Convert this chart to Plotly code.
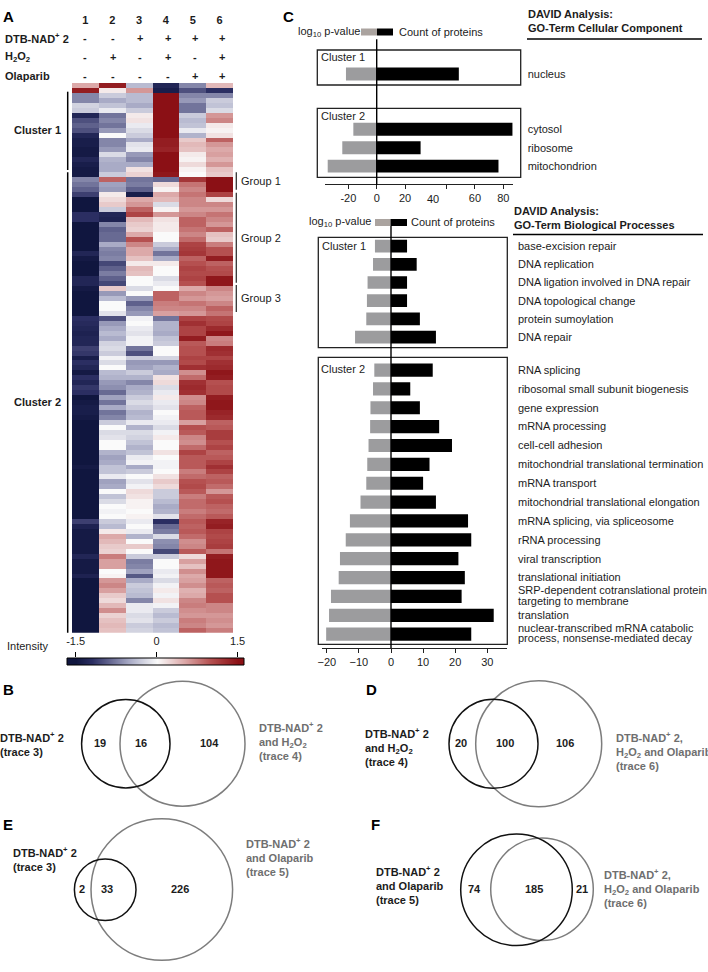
import plotly.graph_objects as go

W, H = 708, 972
FONT = "Liberation Sans"
INK = "#1c1c1c"
GREY = "#6f6f6f"
BAR_GREY = "#9c9c9e"
BASE = 11

# ---------- Panel A data ----------
column_ids = [1, 2, 3, 4, 5, 6]
treat_dtb = ["-", "-", "+", "+", "+", "+"]
treat_h2o2 = ["-", "+", "-", "+", "-", "+"]
treat_ola = ["-", "-", "-", "-", "+", "+"]
scale_levels = [-1.65, -1.5, -1.2, -0.9, -0.6, -0.3, 0, 0.3, 0.6, 0.9, 1.2, 1.5, 1.65]

heat_top = [
    [.5, 1.4, -.4, -1.3, -.7, .4],
    [1.4, .1, .6, -1.4, -1.0, -1.2],
    [-.7, -.3, -.4, 1.5, -.7, -.7],
    [-.7, -.5, -.4, 1.5, -.6, -.3],
    [-.25, -.35, -.5, 1.5, -.8, -.35],
    [-.3, -.1, -.3, 1.5, -.8, -.2],
    [-1.3, -.8, .1, 1.5, -.3, .6],
    [-1.0, -.7, .15, 1.5, -.4, .7],
    [-.9, -.8, -.1, 1.5, -.35, .1],
    [-1.0, -.6, -.2, 1.5, -.1, .05],
    [-1.3, .0, -.3, 1.5, -.45, .15],
    [-1.4, -.7, -.5, 1.4, .3, .9],
    [-1.4, -.7, -.15, 1.4, .4, .6],
    [-1.45, -.6, -.1, 1.35, .35, .5],
    [-1.45, -.2, -.6, 1.5, .1, .55],
    [-1.3, -.45, -.7, 1.5, .05, .45],
    [-1.4, -.5, -.5, 1.5, .2, .6],
    [-1.45, -.5, .15, 1.5, .05, .35],
    [-1.45, -.3, .25, 1.45, .0, .3],
]
heat_bottom = [
    [-.7, .9, -.8, -.85, 1.2, 1.5],
    [-.8, -.55, -.75, .2, .8, 1.5],
    [-.9, -.6, -.9, .05, .7, 1.5],
    [-1.1, .1, -1.4, .5, .8, 1.1],
    [-1.5, .2, .5, .4, .7, .2],
    [-1.5, .3, .6, -.2, .7, .7],
    [-1.5, -.3, .9, .05, .6, .6],
    [-1.2, -1.3, 1.1, .6, .7, .8],
    [-1.2, -1.35, .4, .15, .9, .7],
    [-1.5, -.7, .3, .1, .9, .6],
    [-1.5, -.9, .25, .1, .8, .9],
    [-1.5, -.85, .5, .0, .7, .35],
    [-1.5, -.85, 1.0, .0, .85, .3],
    [-1.5, -.5, .7, -.3, 1.1, .75],
    [-1.5, -.7, .5, -.5, 1.15, 1.0],
    [-1.3, -.75, .5, -.8, 1.2, 1.0],
    [-1.45, -.7, .35, -.5, .9, 1.4],
    [-1.5, -1.05, .1, .1, 1.0, .9],
    [-1.5, -.9, .4, .0, 1.1, 1.0],
    [-1.5, -.75, .35, .0, 1.05, 1.05],
    [-1.3, -.9, .0, -.2, 1.1, 1.45],
    [-1.3, -1.05, .0, -.1, 1.0, 1.45],
    [-1.45, .3, -.2, .0, .5, .7],
    [-1.5, -.6, .0, .9, .7, .6],
    [-1.5, -.4, -.6, .9, .6, .55],
    [-1.5, .0, -.9, .75, .8, .7],
    [-1.5, .0, -.7, .7, .7, .9],
    [-1.5, -.15, -.6, .55, .6, .8],
    [-1.2, -1.0, -.05, -.8, 1.1, 1.05],
    [-1.25, -.6, .0, -.45, 1.25, 1.1],
    [-1.3, -.5, -.1, -.45, 1.1, 1.3],
    [-1.35, -.4, -.15, -.5, 1.1, 1.45],
    [-1.3, -.5, -.05, -.35, 1.4, .7],
    [-1.3, -.25, -.05, -.3, .95, .75],
    [-1.1, -.2, -.8, .0, 1.0, 1.3],
    [-1.15, -.3, -1.0, .0, 1.0, 1.25],
    [-1.4, -.05, -.3, -.25, 1.1, 1.1],
    [-1.2, -.2, -.6, -.6, 1.05, 1.25],
    [-1.3, .0, -.55, -.45, 1.25, 1.3],
    [-1.45, -.4, -.3, -.5, .65, 1.45],
    [-1.2, -.45, -.45, .15, .85, 1.4],
    [-1.3, -.6, -.7, .2, 1.25, 1.0],
    [-1.15, -.65, -.5, -.2, 1.3, 1.05],
    [-1.2, -.85, -.45, -.1, 1.25, 1.05],
    [-1.5, -.55, -.3, .1, .65, 1.4],
    [-1.45, -.8, -.2, -.1, .7, 1.45],
    [-1.4, -.5, -.3, -.15, .9, 1.45],
    [-1.4, -.8, -.45, .0, .95, 1.35],
    [-1.45, -.7, -.4, -.05, .95, 1.3],
    [-1.5, -.3, -.1, -.1, .55, .9],
    [-1.5, .0, -.45, -.2, 1.0, .95],
    [-1.5, -.2, -.2, -.05, .95, 1.15],
    [-1.5, -.15, -.25, .1, .7, 1.15],
    [-1.5, .0, -.35, .0, .65, 1.0],
    [-1.5, .0, -.45, .0, .85, 1.1],
    [-1.5, -.45, -.35, .15, 1.1, .9],
    [-1.5, -.55, -.1, .0, .95, .95],
    [-1.5, -.5, -.05, -.05, .95, 1.1],
    [-1.45, -.35, -.5, -.05, .95, 1.25],
    [-1.5, -.35, -.3, .0, .75, 1.1],
    [-1.5, -.1, .0, .15, .85, .9],
    [-1.5, -.55, -.15, .3, 1.0, .95],
    [-1.5, -.5, -.05, .2, 1.05, .85],
    [-1.5, .0, .2, -.3, .95, .6],
    [-1.5, -.35, .15, -.3, .75, .95],
    [-1.5, -.2, .05, -.4, .85, 1.0],
    [-1.5, .0, .05, -.5, .85, .9],
    [-1.5, -.05, .0, -.45, .75, .85],
    [-1.5, .0, .05, -.15, .85, .95],
    [-1.1, -.3, -.1, -1.2, .95, 1.35],
    [-1.35, -.4, .0, -.85, .9, 1.4],
    [-1.45, .1, -.1, -.75, .95, 1.1],
    [-1.45, .5, -.45, -.2, .85, 1.05],
    [-1.45, .4, .0, -.65, .65, 1.1],
    [-1.45, .3, .3, -.7, .7, 1.15],
    [-1.45, .25, .0, -1.05, .95, .8],
    [-1.3, .75, -.3, -.3, .2, 1.4],
    [-1.45, .55, -.75, .0, .55, 1.45],
    [-1.45, .55, -.7, .0, .35, 1.45],
    [-1.45, .0, -.55, -.1, .65, 1.45],
    [-1.35, .05, -.95, -.05, .5, 1.45],
    [-1.5, .6, -.5, -.2, .55, .9],
    [-1.5, .7, -.3, -.05, .65, .95],
    [-1.5, .55, -.35, .1, .45, .9],
    [-1.5, .3, -.4, -.05, .5, 1.0],
    [-1.5, .2, -.7, .15, .7, 1.0],
    [-1.5, .4, -.1, -.05, .75, .7],
    [-1.5, .65, -.1, -.3, .65, .7],
    [-1.5, .25, -.2, -.4, .6, .6],
    [-1.5, .35, -.15, -.3, .75, .65],
    [-1.5, .4, -.3, -.4, .7, .6],
    [-1.5, .35, -.25, -.35, .9, .75],
]

# ---------- Panel C data ----------
cc1_terms = ["nucleus"]
cc1_logp = [-21.7]
cc1_count = [58]
cc2_terms = ["cytosol", "ribosome", "mitochondrion"]
cc2_logp = [-16.5, -24.3, -34.6]
cc2_count = [96, 31, 86]

bp1_terms = ["base-excision repair", "DNA replication", "DNA ligation involved in DNA repair",
             "DNA topological change", "protein sumoylation", "DNA repair"]
bp1_logp = [-5, -5.6, -7.3, -7.5, -7.7, -11.2]
bp1_count = [5, 8, 5, 5, 9, 14]
bp2_terms = ["RNA splicing", "ribosomal small subunit biogenesis", "gene expression", "mRNA processing",
             "cell-cell adhesion", "mitochondrial translational termination", "mRNA transport",
             "mitochondrial translational elongation", "mRNA splicing, via spliceosome", "rRNA processing",
             "viral transcription", "translational initiation",
             "SRP-dependent cotranslational protein targeting to membrane", "translation",
             "nuclear-transcribed mRNA catabolic process, nonsense-mediated decay"]
bp2_logp = [-5.2, -5.6, -6.4, -6.5, -7, -7.4, -7.7, -9.5, -12.8, -14.1, -15.9, -16.3, -18.7, -19.3, -20.2]
bp2_count = [13, 6, 9, 15, 19, 12, 10, 14, 24, 25, 21, 23, 22, 32, 25]

# ---------- Panel B, D, E, F counts ----------
venn_b = ["19", "16", "104"]
venn_d = ["20", "100", "106"]
venn_e = ["2", "33", "226"]
venn_f = ["74", "185", "21"]


def px(x):
    return x / W


def py(y):
    return 1 - y / H


def dom_x(a, b):
    return [px(a), px(b)]


def dom_y(top, bottom):
    return [py(bottom), py(top)]


fig = go.Figure()

# Heatmap and its scale strip
fig.add_trace(go.Heatmap(z=heat_top + heat_bottom, x=column_ids, coloraxis="coloraxis",
                         xaxis="x", yaxis="y", hoverinfo="skip"))
fig.add_trace(go.Heatmap(z=[scale_levels], x=scale_levels, coloraxis="coloraxis", zsmooth="best",
                         xaxis="x6", yaxis="y6", hoverinfo="skip"))


def add_bars(logp, count, terms, axis_n):
    ax = str(axis_n)
    fig.add_trace(go.Bar(y=terms, x=logp, orientation="h", marker=dict(color=BAR_GREY, line_width=0),
                         xaxis="x" + ax, yaxis="y" + ax, showlegend=False))
    fig.add_trace(go.Bar(y=terms, x=count, orientation="h", marker=dict(color="#000000", line_width=0),
                         xaxis="x" + ax, yaxis="y" + ax, showlegend=False))


add_bars(cc1_logp, cc1_count, cc1_terms, 2)
add_bars(cc2_logp, cc2_count, cc2_terms, 3)
add_bars(bp1_logp, bp1_count, bp1_terms, 4)
add_bars(bp2_logp, bp2_count, bp2_terms, 5)

anns = []


def txt(x, y, s, anchor="left", size=BASE, bold=False, color=INK):
    anns.append(dict(xref="paper", yref="paper", x=px(x), y=py(y), text=f"<b>{s}</b>" if bold else s,
                     showarrow=False, xanchor=anchor, yanchor="middle", align=anchor, borderpad=0, borderwidth=0,
                     font=dict(family=FONT, size=size, color=color)))


shapes = []


def line(x0, y0, x1, y1, w=1.5, color="#000000"):
    shapes.append(dict(type="line", xref="paper", yref="paper", x0=px(x0), y0=py(y0), x1=px(x1), y1=py(y1),
                       line=dict(color=color, width=w), layer="above"))


def rect(x0, y0, x1, y1, fill=None, border="#222222", w=1.3):
    shapes.append(dict(type="rect", xref="paper", yref="paper", x0=px(x0), y0=py(y0), x1=px(x1), y1=py(y1),
                       fillcolor=fill if fill else "rgba(0,0,0,0)",
                       line=dict(color=border, width=w), layer="above"))


def circle(cx, cy, r, color, w=1.5):
    shapes.append(dict(type="circle", xref="paper", yref="paper", x0=px(cx - r), x1=px(cx + r),
                       y0=py(cy + r), y1=py(cy - r), line=dict(color=color, width=w), layer="above"))


# Panel letters
for letter, x, y in [("A", 3, 16), ("C", 283, 16), ("B", 3, 689), ("E", 3, 824), ("D", 366, 689), ("F", 371, 824)]:
    txt(x, y, letter, size=15, bold=True, color="#000000")

# Panel A header
col_px = [85, 113, 140, 168, 195, 222]
for label, row, y in [("DTB-NAD<sup>+</sup> 2", treat_dtb, 38), ("H<sub>2</sub>O<sub>2</sub>", treat_h2o2, 57),
                      ("Olaparib", treat_ola, 76)]:
    txt(5, y, label, bold=True)
    for xp, mark in zip(col_px, row):
        txt(xp, y, mark, anchor="center", bold=True)

line(67.7, 91.7, 67.7, 170, w=1.5)
line(67.7, 172.3, 67.7, 632.7, w=1.5)
txt(61, 130, "Cluster 1", anchor="right", bold=True)
txt(61, 401.7, "Cluster 2", anchor="right", bold=True)
for y0, y1, lab in [(172.3, 189.7, "Group 1"), (192.7, 282.7, "Group 2"), (285, 312, "Group 3")]:
    line(236.3, y0, 236.3, y1, w=1.3, color="#333333")
    txt(241, (y0 + y1) / 2, lab)
txt(7, 646, "Intensity")

# Panel C legends and titles
for xr, xs0, xs1, xs2, xl, y in [(359.5, 361, 377, 393, 399, 32), (371, 375, 390.5, 407, 411, 222.5)]:
    txt(xr, y, "log<sub>10</sub> p-value", anchor="right")
    rect(xs0, y - 3.5, xs1, y + 3.5, fill="#aaa39f", border="#aaa39f", w=0)
    rect(xs1, y - 3.5, xs2, y + 3.5, fill="#000000", border="#000000", w=0)
    txt(xl, y, "Count of proteins")

txt(528, 20.5, "DAVID Analysis:<br>GO-Term Cellular Component", bold=True)
line(527, 39, 702, 39, w=1.3)
txt(514, 217.5, "DAVID Analysis:<br>GO-Term Biological Processes", bold=True)
line(513, 234.5, 703, 234.5, w=1.3)

rect(317.3, 50, 520.7, 85)
rect(317.3, 108.3, 520.7, 177.3)
rect(318.3, 237.3, 507.3, 347.7)
rect(318.3, 357.3, 507.3, 644.3)
txt(321, 57, "Cluster 1")
txt(321, 116, "Cluster 2")
txt(322, 246, "Cluster 1")
txt(321, 369.5, "Cluster 2")
txt(433.3, 199, "40", anchor="center")

# Two-line term labels, lines tighter than a tick label allows
txt(518, 590.3, "SRP-dependent cotranslational protein")
txt(518, 600.7, "targeting to membrane")
txt(518, 628, "nuclear-transcribed mRNA catabolic")
txt(518, 638.3, "process, nonsense-mediated decay")

# Zero lines
shapes.append(dict(type="line", xref="x3", yref="paper", x0=0, x1=0, y0=py(39.3), y1=py(185),
                   line=dict(color="#000000", width=1.4), layer="above"))
shapes.append(dict(type="line", xref="x5", yref="paper", x0=0, x1=0, y0=py(226), y1=py(648),
                   line=dict(color="#000000", width=1.4), layer="above"))

# Venn diagrams
BLK = "#111111"
GRY = "#7d7d7d"
circle(182.5, 743.7, 62.5, GRY)
circle(125.8, 743.8, 44.2, BLK)
for s, x in zip(venn_b, [100, 141, 209]):
    txt(x, 743, s, anchor="center", bold=True)
txt(0, 743.5, "DTB-NAD<sup>+</sup> 2<br>(trace 3)", bold=True)
txt(259, 741, "DTB-NAD<sup>+</sup> 2<br>and H<sub>2</sub>O<sub>2</sub><br>(trace 4)", bold=True, color=GREY)

circle(161.8, 889.5, 70.8, GRY)
circle(105.2, 889.7, 30.8, BLK)
for s, x in zip(venn_e, [82.3, 107.3, 180]):
    txt(x, 888.7, s, anchor="center", bold=True)
txt(13.3, 858.7, "DTB-NAD<sup>+</sup> 2<br>(trace 3)", bold=True)
txt(245.5, 856.7, "DTB-NAD<sup>+</sup> 2<br>and Olaparib<br>(trace 5)", bold=True, color=GREY)

circle(538.7, 743.7, 63, GRY)
circle(493.5, 743.8, 44.5, BLK)
for s, x in zip(venn_d, [460.7, 505.3, 565.3]):
    txt(x, 743.3, s, anchor="center", bold=True)
txt(365, 747, "DTB-NAD<sup>+</sup> 2<br>and H<sub>2</sub>O<sub>2</sub><br>(trace 4)", bold=True)
txt(615.7, 750.7, "DTB-NAD<sup>+</sup> 2,<br>H<sub>2</sub>O<sub>2</sub> and Olaparib<br>(trace 6)", bold=True, color=GREY)

circle(542, 889.2, 51.3, GRY)
circle(516.5, 889.7, 55.8, BLK)
for s, x in zip(venn_f, [474, 534.3, 582]):
    txt(x, 888.7, s, anchor="center", bold=True)
txt(376, 885, "DTB-NAD<sup>+</sup> 2<br>and Olaparib<br>(trace 5)", bold=True)
txt(604, 887.5, "DTB-NAD<sup>+</sup> 2,<br>H<sub>2</sub>O<sub>2</sub> and Olaparib<br>(trace 6)", bold=True, color=GREY)

tick_font = dict(family=FONT, size=BASE, color=INK)
cc_range = [(325 - 376.7) / 1.416, (512.7 - 376.7) / 1.416]
bp_range = [(321.7 - 391) / 3.21, (507 - 391) / 3.21]
cc_dom = dom_x(325, 512.7)
bp_dom = dom_x(321.7, 507)
bp2_shown = [t for t in bp2_terms if not t.startswith(("SRP", "nuclear"))]


def cat_axis(top, bottom, terms, anchor, standoff, tickvals=None):
    return dict(domain=dom_y(top, bottom), anchor=anchor, side="right", type="category",
                categoryorder="array", categoryarray=terms, autorange="reversed", showgrid=False, zeroline=False,
                showline=False, ticks="", ticklen=0, tickfont=tick_font, ticklabelstandoff=standoff,
                tickmode="array", tickvals=tickvals if tickvals else terms)


fig.update_layout(
    width=W, height=H, margin=dict(l=0, r=0, t=0, b=0, pad=0, autoexpand=False),
    paper_bgcolor="white", plot_bgcolor="rgba(0,0,0,0)",
    barmode="overlay", bargap=0.3, showlegend=False, font=dict(family=FONT, size=BASE, color=INK),
    annotations=anns, shapes=shapes,
    coloraxis=dict(
        cmin=-1.65, cmax=1.65, showscale=False,
        colorscale=[[0.0, "#10163f"], [0.045, "#10163f"], [0.136, "#2b2e62"], [0.227, "#5f618c"], [0.348, "#a9abc6"],
                    [0.5, "#fafafa"], [0.652, "#dca9a9"], [0.803, "#b55050"], [0.955, "#8b1015"], [1.0, "#8b1015"]],
    ),
    xaxis=dict(domain=dom_x(72, 233), anchor="y", side="top", tickmode="array", tickvals=column_ids,
               showgrid=False, zeroline=False, ticks="", showline=False, ticklabelstandoff=56,
               tickfont=dict(family=FONT, size=BASE, color=INK, weight="bold")),
    yaxis=dict(domain=dom_y(83, 632.7), anchor="x", autorange="reversed", visible=False),
    # Scale strip under the heatmap
    xaxis6=dict(domain=dom_x(67, 244), range=[-1.66, 1.62], anchor="y6", side="top", showgrid=False, zeroline=False,
                showline=False, mirror=False, ticks="outside", ticklen=5, tickcolor="#000000", tickwidth=1,
                tickmode="array", tickvals=[-1.5, 0, 1.5], ticktext=["-1.5", "0", "1.5"],
                ticklabelstandoff=3, tickfont=tick_font),
    yaxis6=dict(domain=dom_y(658, 665), anchor="x6", visible=False),
    # Cellular component panels
    xaxis2=dict(domain=cc_dom, range=cc_range, anchor="y2", visible=False),
    yaxis2=cat_axis(64.8, 83.2, cc1_terms, "x2", 14),
    xaxis3=dict(domain=cc_dom, range=cc_range, anchor="free", position=py(183.7), showgrid=False, zeroline=False,
                showline=True, linecolor="#222222", linewidth=1.3, ticks="outside", ticklen=4, tickcolor="#222222",
                tickmode="array", tickvals=[-20, 0, 20, 49.4, 69.4, 89.4],
                ticktext=["-20", "0", "20", "", "60", "80"], tickfont=tick_font),
    yaxis3=cat_axis(120.1, 175.3, cc2_terms, "x3", 14),
    # Biological process panels
    xaxis4=dict(domain=bp_dom, range=bp_range, anchor="y4", visible=False),
    yaxis4=cat_axis(237, 346.2, bp1_terms, "x4", 10),
    xaxis5=dict(domain=bp_dom, range=bp_range, anchor="free", position=py(647.7), showgrid=False, zeroline=False,
                showline=True, linecolor="#222222", linewidth=1.3, ticks="outside", ticklen=4, tickcolor="#222222",
                tickmode="array", tickvals=[-20, -10, 0, 10, 20, 30], tickfont=tick_font),
    yaxis5=cat_axis(360.6, 643.6, bp2_terms, "x5", 10, tickvals=bp2_shown),
)

# Black outline of the scale strip
shapes.append(dict(type="rect", xref="paper", yref="paper", x0=px(67), x1=px(244), y0=py(665), y1=py(658),
                   line=dict(color="#000000", width=1), layer="above"))
fig.update_layout(shapes=shapes)

fig.write_html("out.html", post_script="document.body.style.margin='0';", config={"displayModeBar": False})
